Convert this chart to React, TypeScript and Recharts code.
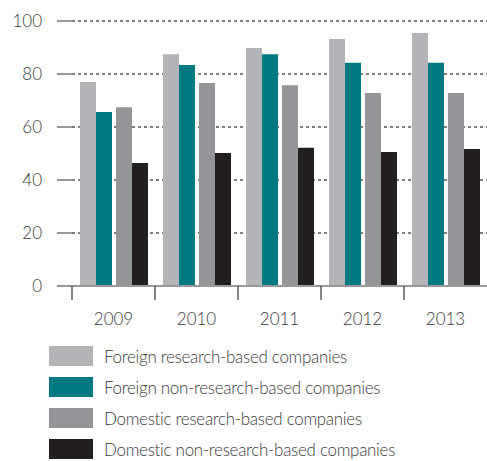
import React from 'react';
import { BarChart, Bar, XAxis, YAxis, CartesianGrid, Legend, Rectangle } from 'recharts';

const years = ['2009', '2010', '2011', '2012', '2013'];
const seriesNames = [
  'Foreign research-based companies',
  'Foreign non-research-based companies',
  'Domestic research-based companies',
  'Domestic non-research-based companies',
];
const foreignResearch = [77, 87.5, 89.8, 93.2, 95.5];
const foreignNonResearch = [65.7, 83.4, 87.5, 84.2, 84.2];
const domesticResearch = [67.5, 76.6, 75.8, 72.8, 72.8];
const domesticNonResearch = [46.4, 50.2, 52.2, 50.6, 51.7];
const yTicks = [0, 20, 40, 60, 80, 100];

const data = years.map((year, i) => ({
  year,
  foreignResearch: foreignResearch[i],
  foreignNonResearch: foreignNonResearch[i],
  domesticResearch: domesticResearch[i],
  domesticNonResearch: domesticNonResearch[i],
}));

const FONT = 'Lato, "Liberation Sans", sans-serif';
const TEXT = '#3a3a3a';

// pairs of bars sit a little apart
const shifted = (dx: number) => (props: any) => <Rectangle {...props} x={props.x + dx} />;

// year label in the middle, tick mark on the left edge of the category
const YearTick = (props: any) => {
  const { x, y, payload } = props;
  const half = payload.offset || 0;
  return (
    <g>
      <line x1={x - half} x2={x - half} y1={y} y2={y + 14} stroke="#333" strokeWidth={1.2} />
      <text x={x} y={y + 27} dy="0.71em" textAnchor="middle" fill={TEXT} fontSize={17} fontWeight={300} fontFamily={FONT}>
        {payload.value}
      </text>
    </g>
  );
};

const LegendBox = ({ payload }: any) => {
  const items = [...(payload || [])].sort(
    (a: any, b: any) => seriesNames.indexOf(a.value) - seriesNames.indexOf(b.value)
  );
  return (
    <div style={{ fontFamily: FONT, fontSize: 17, fontWeight: 300, letterSpacing: -0.3, color: TEXT }}>
      {items.map((entry: any) => (
        <div key={entry.value} style={{ display: 'flex', alignItems: 'center', height: 20, marginBottom: 11 }}>
          <div style={{ width: 44, height: 20, background: entry.color, marginRight: 11 }} />
          <span style={{ whiteSpace: 'nowrap' }}>{entry.value}</span>
        </div>
      ))}
    </div>
  );
};

export default function App() {
  return (
    <div style={{ position: 'absolute', left: 0, top: 0, width: 487, height: 461, background: '#fff' }}>
      <BarChart
        width={487}
        height={461}
        data={data}
        margin={{ top: 21, right: 0, left: 0, bottom: 125 }}
        barSize={16}
        barGap={0}
      >
        <CartesianGrid vertical={false} stroke="#000" strokeWidth={1.2} strokeDasharray="3 3" />
        <YAxis
          domain={[0, 100]}
          ticks={yTicks}
          width={72}
          axisLine={false}
          tickSize={15}
          tickMargin={15}
          tickLine={{ stroke: '#999', strokeWidth: 2 }}
          tick={{ fill: TEXT, fontSize: 17, fontWeight: 300, fontFamily: FONT }}
        />
        <XAxis
          dataKey="year"
          height={50}
          tickSize={0}
          tickMargin={0}
          tickLine={false}
          axisLine={{ stroke: '#999', strokeWidth: 2 }}
          tick={<YearTick />}
        />
        <Legend
          layout="vertical"
          align="center"
          verticalAlign="middle"
          wrapperStyle={{ left: 49, top: 346, width: 'auto' }}
          content={<LegendBox />}
        />
        <Bar dataKey="foreignResearch" name={seriesNames[0]} fill="#b3b4b8" shape={shifted(-2)} isAnimationActive={false} />
        <Bar dataKey="foreignNonResearch" name={seriesNames[1]} fill="#007a80" shape={shifted(-2)} isAnimationActive={false} />
        <Bar dataKey="domesticResearch" name={seriesNames[2]} fill="#939598" shape={shifted(2)} isAnimationActive={false} />
        <Bar dataKey="domesticNonResearch" name={seriesNames[3]} fill="#231f20" shape={shifted(2)} isAnimationActive={false} />
      </BarChart>
    </div>
  );
}
